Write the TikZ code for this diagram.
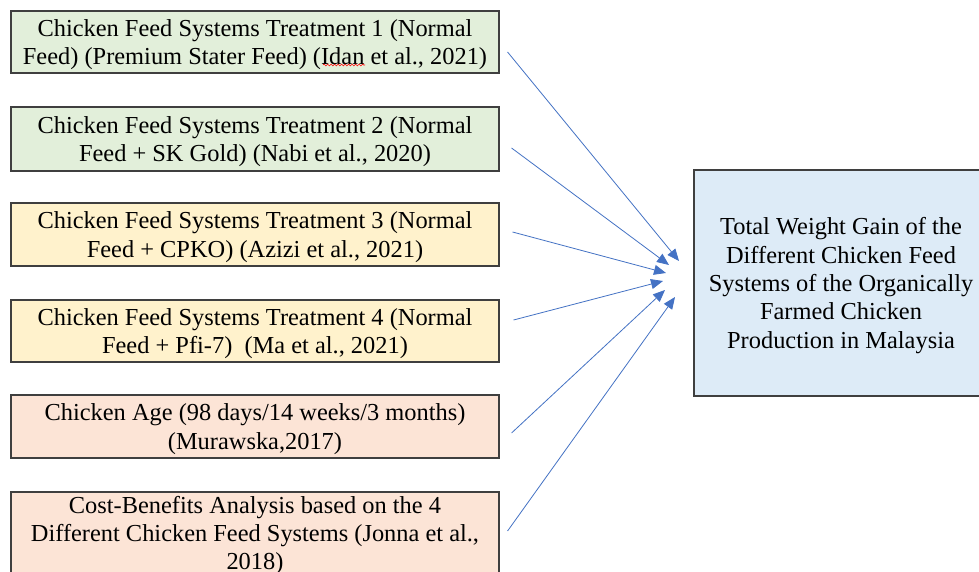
\documentclass[tikz,border=0pt]{standalone}
\usepackage{fontspec}
\setmainfont{Liberation Serif}
\usetikzlibrary{arrows.meta,calc,decorations.pathmorphing}
\definecolor{boxgreen}{HTML}{E2EFDA}
\definecolor{boxyellow}{HTML}{FFF2CC}
\definecolor{boxpeach}{HTML}{FCE4D6}
\definecolor{boxblue}{HTML}{DDEBF7}
\definecolor{boxline}{HTML}{3F3F3F}
\definecolor{arrowblue}{HTML}{4472C4}
\tikzset{
  inbox/.style={draw=boxline, line width=1.1pt, minimum width=488pt, inner sep=0pt},
  outbox/.style={draw=boxline, line width=1.1pt, fill=boxblue, minimum width=294pt,
    minimum height=226pt, inner sep=0pt},
  txt/.style={inner sep=0pt, align=center, font=\fontsize{24.4}{28.3}\selectfont, yshift=-2.5pt},
  link/.style={draw=arrowblue, line width=0.8pt, -{Triangle[length=12pt,width=10pt]}},
  spellwave/.style={draw=red, line width=0.6pt, decorate,
    decoration={snake, amplitude=0.9pt, segment length=3.5pt}}
}
\begin{document}
\begin{tikzpicture}[x=1pt,y=-1pt]
\clip (0,0) rectangle (979,572);
\fill[white] (0,0) rectangle (979,572);
\node[inbox, fill=boxgreen, minimum height=62pt] (b1) at (255,42) {};
\node[txt] (l1) at (b1.center)
  {Chicken Feed Systems Treatment 1 (Normal\\Feed) (Premium Stater Feed) (Idan et al., 2021)};
\node[inbox, fill=boxgreen, minimum height=64pt] (b2) at (255,139) {};
\node[txt] (l2) at (b2.center)
  {Chicken Feed Systems Treatment 2 (Normal\\Feed + SK Gold) (Nabi et al., 2020)};
\node[inbox, fill=boxyellow, minimum height=63pt] (b3) at (255,234.5) {};
\node[txt] (l3) at (b3.center)
  {Chicken Feed Systems Treatment 3 (Normal\\Feed + CPKO) (Azizi et al., 2021)};
\node[inbox, fill=boxyellow, minimum height=62pt] (b4) at (255,331) {};
\node[txt] (l4) at (b4.center)
  {Chicken Feed Systems Treatment 4 (Normal\\Feed + Pfi-7)\ \ (Ma et al., 2021)};
\node[inbox, fill=boxpeach, minimum height=63pt] (b5) at (255,426.5) {};
\node[txt] (l5) at (b5.center)
  {Chicken Age (98 days/14 weeks/3 months)\\(Murawska,2017)};
\node[inbox, fill=boxpeach, minimum height=82pt] (b6) at (255,533) {};
\node[txt] (l6) at (b6.center)
  {Cost-Benefits Analysis based on the 4\\Different Chicken Feed Systems (Jonna et al.,\\2018)};
\node[outbox] (t) at (841,283) {};
\node[txt] (lt) at (t.center)
  {Total Weight Gain of the\\Different Chicken Feed\\Systems of the Organically\\Farmed Chicken\\Production in Malaysia};
\draw[spellwave] (323,65) -- (365,65);
\coordinate (s1) at ($(b1.east)+(8,10)$);
\coordinate (s2) at ($(b2.east)+(12,9)$);
\coordinate (s3) at ($(b3.east)+(13,-2.5)$);
\coordinate (s4) at ($(b4.east)+(14,-11)$);
\coordinate (s5) at ($(b5.east)+(12,6.5)$);
\coordinate (s6) at ($(b6.east)+(8,-2)$);
\coordinate (e1) at (679,261);
\coordinate (e2) at (669,265);
\coordinate (e3) at (666,273);
\coordinate (e4) at (663,281);
\coordinate (e5) at (665,290);
\coordinate (e6) at (675,297);
\foreach \i in {1,...,6} \draw[link] (s\i) -- (e\i);
\end{tikzpicture}
\end{document}
